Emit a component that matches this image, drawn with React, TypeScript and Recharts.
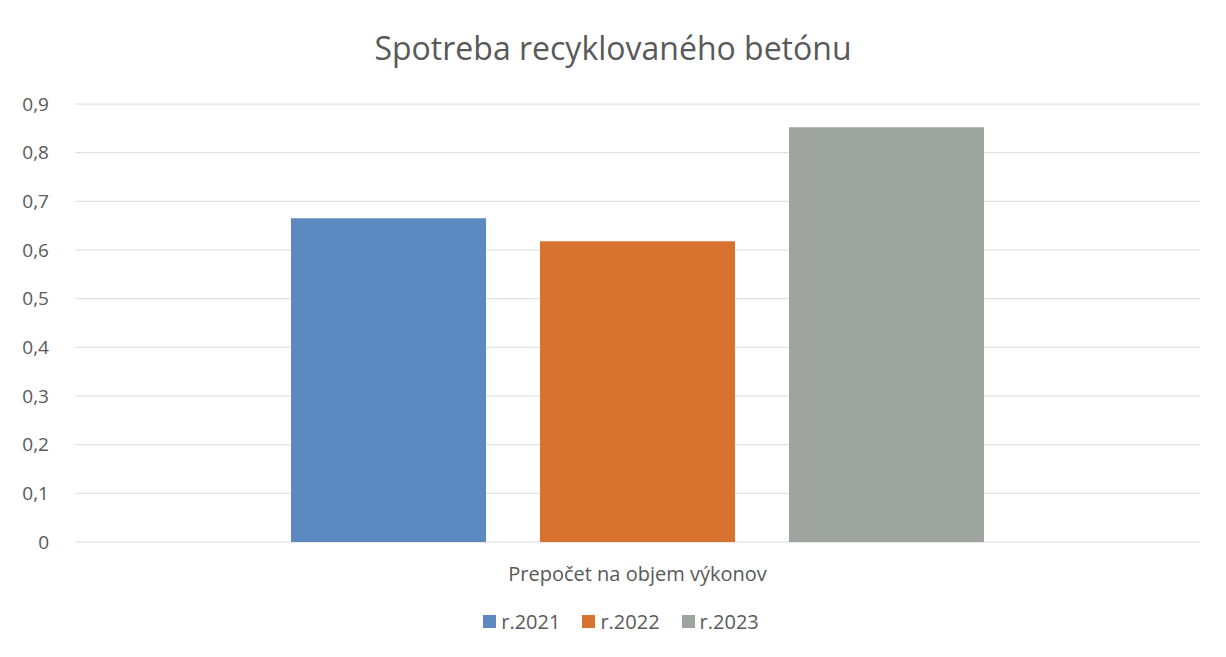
import { BarChart, Bar, XAxis, YAxis, CartesianGrid, Legend } from 'recharts';

const categories = ['Prepočet na objem výkonov'];
const series2021 = [0.665];
const series2022 = [0.618];
const series2023 = [0.852];
const yTicks = [0, 0.1, 0.2, 0.3, 0.4, 0.5, 0.6, 0.7, 0.8, 0.9];

const seriesNames = ['r.2021', 'r.2022', 'r.2023'];
const colors = ['#5b89c0', '#d8732f', '#9ea5a0'];

const data = categories.map((name, i) => ({
  name,
  y2021: series2021[i],
  y2022: series2022[i],
  y2023: series2023[i],
}));

const textColor = '#595959';
const font = '"Open Sans", sans-serif';

function LegendContent(props: any) {
  const { payload } = props;
  return (
    <div
      style={{
        display: 'flex',
        justifyContent: 'center',
        gap: 22,
        paddingLeft: 42,
        fontFamily: font,
        fontSize: 20,
        color: textColor,
      }}
    >
      {(payload || []).map((p: any) => (
        <div key={p.value} style={{ display: 'flex', alignItems: 'center' }}>
          <span style={{ display: 'inline-block', width: 13, height: 13, background: p.color, marginRight: 5 }} />
          <span>{p.value}</span>
        </div>
      ))}
    </div>
  );
}

export default function App() {
  return (
    <div style={{ position: 'absolute', left: 0, top: 0, width: 1226, height: 657, background: '#fff' }}>
      <div
        style={{
          position: 'absolute',
          top: 26,
          left: 0,
          width: 1226,
          textAlign: 'center',
          fontFamily: font,
          fontSize: 32,
          color: textColor,
        }}
      >
        Spotreba recyklovaného betónu
      </div>
      <BarChart
        width={1226}
        height={657}
        data={data}
        margin={{ top: 104, right: 26, left: 0, bottom: 22 }}
        barSize={195}
        barGap={54}
      >
        <CartesianGrid vertical={false} stroke="#dcdcdc" />
        <XAxis
          dataKey="name"
          axisLine={false}
          tickLine={false}
          tickSize={0}
          tickMargin={25}
          height={66}
          tick={{ fontFamily: font, fontSize: 20, fill: textColor }}
        />
        <YAxis
          width={75}
          domain={[0, 0.9]}
          ticks={yTicks}
          axisLine={false}
          tickLine={false}
          tickSize={0}
          tickMargin={26}
          tickFormatter={(v: number) => String(v).replace('.', ',')}
          tick={{ fontFamily: font, fontSize: 19, fill: textColor }}
        />
        <Legend verticalAlign="bottom" content={<LegendContent />} />
        <Bar dataKey="y2021" name={seriesNames[0]} fill={colors[0]} isAnimationActive={false} />
        <Bar dataKey="y2022" name={seriesNames[1]} fill={colors[1]} isAnimationActive={false} />
        <Bar dataKey="y2023" name={seriesNames[2]} fill={colors[2]} isAnimationActive={false} />
      </BarChart>
    </div>
  );
}
